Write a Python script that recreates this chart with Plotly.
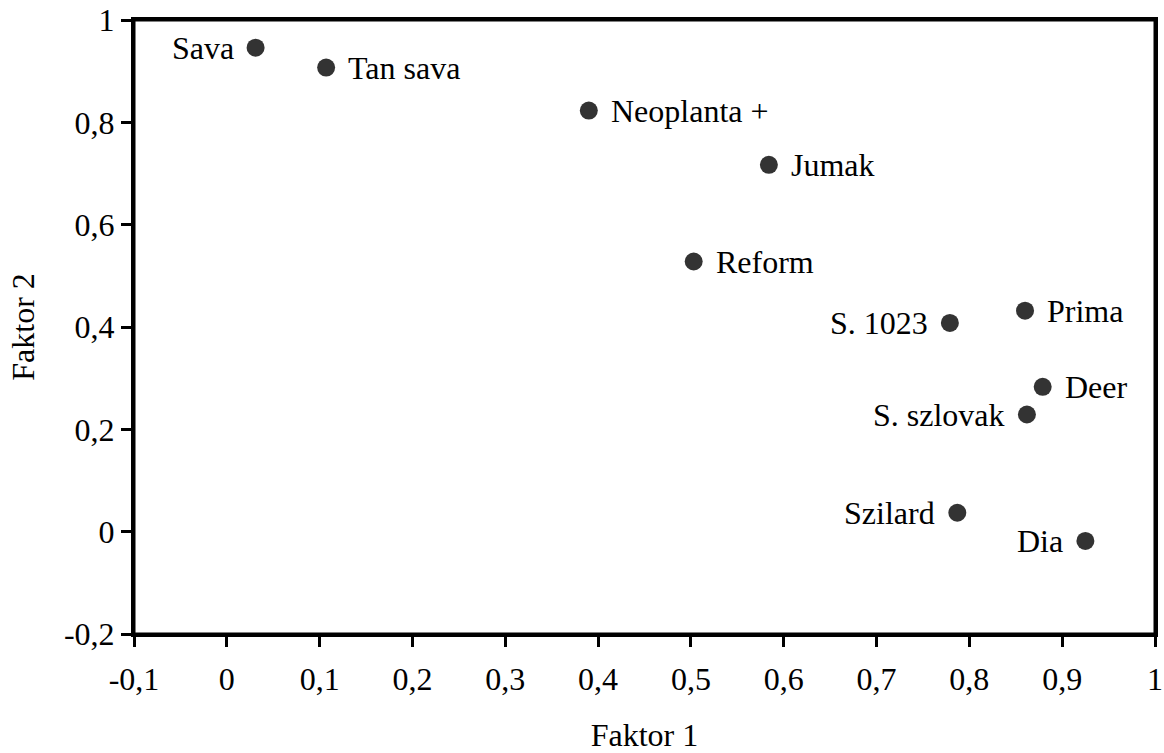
import plotly.graph_objects as go

names = ["Sava", "Tan sava", "Neoplanta +", "Jumak", "Reform", "S. 1023",
         "Prima", "Deer", "S. szlovak", "Szilard", "Dia"]
faktor1 = [0.031, 0.107, 0.390, 0.584, 0.503, 0.779, 0.860, 0.879, 0.862, 0.787, 0.925]
faktor2 = [0.946, 0.907, 0.823, 0.717, 0.528, 0.408, 0.432, 0.283, 0.229, 0.037, -0.018]
label_side = ["left", "right", "right", "right", "right",
              "left", "right", "right", "left", "left", "left"]

x_ticks = [-0.1, 0, 0.1, 0.2, 0.3, 0.4, 0.5, 0.6, 0.7, 0.8, 0.9, 1.0]
x_ticktext = ["-0,1", "0", "0,1", "0,2", "0,3", "0,4", "0,5", "0,6", "0,7", "0,8", "0,9", "1"]
y_ticks = [-0.2, 0, 0.2, 0.4, 0.6, 0.8, 1.0]
y_ticktext = ["-0,2", "0", "0,2", "0,4", "0,6", "0,8", "1"]

font_family = "Liberation Serif"
FS = 32

fig = go.Figure(go.Scatter(
    x=faktor1, y=faktor2, mode="markers",
    marker=dict(size=18, color="#333333"),
    cliponaxis=False, hoverinfo="skip",
))

for nx, ny, name, side in zip(faktor1, faktor2, names, label_side):
    fig.add_annotation(
        x=nx, y=ny, xref="x", yref="y", text=name, showarrow=False,
        xanchor="right" if side == "left" else "left", yanchor="middle",
        xshift=-20 if side == "left" else 20,
        font=dict(family=font_family, size=FS, color="black"),
    )

# plot frame
fig.add_shape(type="rect", xref="x domain", yref="y domain", x0=0, x1=1, y0=0, y1=1,
              line=dict(color="black", width=3), layer="above")

axis_common = dict(
    showline=True, linewidth=3, linecolor="black", mirror=True,
    ticks="outside", ticklen=10, tickwidth=3, tickcolor="black",
    showgrid=False, zeroline=False,
    tickfont=dict(family=font_family, size=FS, color="black"),
    ticklabeloverflow="allow",
)

fig.update_layout(
    width=1164, height=753,
    margin=dict(l=134, r=9, t=20, b=119, autoexpand=False),
    plot_bgcolor="white", paper_bgcolor="white",
    showlegend=False,
    font=dict(family=font_family, size=FS, color="black"),
    xaxis=dict(range=[-0.1, 1.0], tickvals=x_ticks, ticktext=x_ticktext,
               ticklabelstandoff=5,
               title=dict(text="Faktor 1", font=dict(family=font_family, size=FS, color="black"),
                          standoff=46),
               **axis_common),
    yaxis=dict(range=[-0.2, 1.0], tickvals=y_ticks, ticktext=y_ticktext,
               title=dict(text="Faktor 2", font=dict(family=font_family, size=FS, color="black"),
                          standoff=20),
               **axis_common),
)

fig.write_html("out.html",
               config={"displayModeBar": False},
               post_script="document.body.style.margin='0';document.body.style.overflow='hidden';")
